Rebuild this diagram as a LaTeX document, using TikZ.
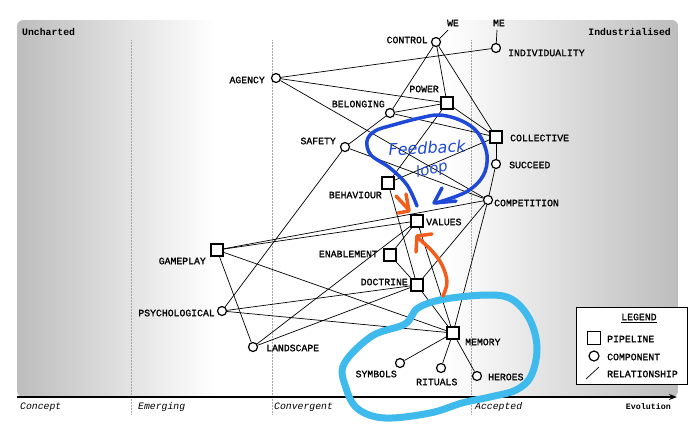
\documentclass[tikz,border=0pt]{standalone}
\usepackage{fontspec}
\setmonofont{Liberation Mono}
\newfontfamily\labelfont{Liberation Mono}[FakeBold=1.2]
\newfontfamily\handfont{DejaVu Sans}
\usetikzlibrary{arrows.meta}
\definecolor{penblue}{RGB}{30,72,215}
\definecolor{penorange}{RGB}{242,92,28}
\definecolor{penaqua}{RGB}{62,186,236}
\tikzset{
  comp/.style={circle, draw, line width=1.2pt, fill=white, inner sep=0pt, minimum size=9pt},
  pipe/.style={rectangle, draw, line width=1.2pt, fill=white, inner sep=0pt, minimum size=12pt},
  lbl/.style={font=\labelfont\fontsize{9.8}{10}\selectfont, inner sep=0pt},
  stage/.style={font=\ttfamily\itshape\fontsize{9.8}{10}\selectfont, anchor=west, inner sep=0pt},
  rel/.style={line width=0.7pt},
  pen/.style={line width=3.5pt, line cap=round, line join=round},
}
\begin{document}
\begin{tikzpicture}[x=1pt, y=-1pt]
    \def\axisy{397}
    \def\mapl{17}
    \def\mapr{678}
\useasboundingbox (0,0) rectangle (700,429);
% map background
\begin{scope}
  \clip[rounded corners=6pt] (\mapl,20) rectangle (\mapr,\axisy);
  \shade[left color=black!26, right color=white] (\mapl,20) rectangle (215,\axisy);
  \shade[left color=white, right color=black!26] (445,20) rectangle (\mapr,\axisy);
\end{scope}
\foreach \x in {131,272,471} {
  \draw[black!35, densely dotted, line width=0.5pt] (\x,40) -- (\x,414);
}
\node[lbl, font=\ttfamily\bfseries\fontsize{9.8}{10}\selectfont, anchor=west] (uncharted) at (22,32) {Uncharted};
\node[lbl, font=\ttfamily\bfseries\fontsize{9.8}{10}\selectfont, anchor=east] (industrialised) at (671,32) {Industrialised};
% evolution axis
\coordinate (axis-start) at (\mapl,\axisy);
\coordinate (axis-end) at (677,\axisy);
\draw[line width=1.6pt, -{Stealth[length=8pt,width=6pt]}] (axis-start) -- (axis-end);
\node[stage] (concept) at (20,407) {Concept};
\node[stage] (emerging) at (138,407) {Emerging};
\node[stage] (convergent) at (274,407) {Convergent};
\node[stage] (accepted) at (475,407) {Accepted};
\node[lbl, font=\ttfamily\bfseries\fontsize{8.3}{9}\selectfont, anchor=east] (evolution) at (671,407) {Evolution};
% components and pipelines
\node[comp] (control) at (436,42) {};
\node[comp] (individuality) at (496,48) {};
\node[comp] (agency) at (276,78) {};
\node[pipe] (power) at (447,103) {};
\node[comp] (belonging) at (390,113) {};
\node[comp] (safety) at (345,147) {};
\node[pipe] (collective) at (496,137) {};
\node[comp] (succeed) at (496,164) {};
\node[pipe] (behaviour) at (388,183) {};
\node[comp] (competition) at (488,200) {};
\node[pipe] (values) at (417,221) {};
\node[pipe] (enablement) at (390,255) {};
\node[pipe] (doctrine) at (417,285) {};
\node[pipe] (gameplay) at (217,250) {};
\node[comp] (psychological) at (222,311) {};
\node[comp] (landscape) at (253,347) {};
\node[pipe] (memory) at (453,333) {};
\node[comp] (symbols) at (400,363) {};
\node[comp] (rituals) at (441,368) {};
\node[comp] (heroes) at (477,376) {};
\foreach \a/\b in {control/belonging, control/power, control/collective,
    agency/individuality, agency/power, agency/competition,
    belonging/power, belonging/collective, belonging/safety,
    safety/psychological, safety/competition,
    power/behaviour, power/collective,
    behaviour/doctrine, behaviour/collective,
    collective/succeed, succeed/competition,
    competition/gameplay, competition/doctrine, competition/memory,
    values/gameplay, values/landscape, values/enablement, values/memory,
    enablement/doctrine,
    doctrine/psychological, doctrine/landscape, doctrine/memory,
    gameplay/landscape, gameplay/memory, psychological/memory,
    memory/symbols, memory/rituals, memory/heroes} {
  \draw[rel] (\a) -- (\b);
}
\coordinate (we-tip) at (448,30);
\coordinate (me-tip) at (497,30);
\draw[rel] (control) -- (we-tip);
\draw[rel] (individuality) -- (me-tip);
% labels
\node[lbl] (we-t) at (453,23) {WE};
\node[lbl] (me-t) at (499,23) {ME};
\node[lbl, anchor=east] (control-t) at (428,40) {CONTROL};
\node[lbl, anchor=west] (individuality-t) at (508,53) {INDIVIDUALITY};
\node[lbl, anchor=east] (agency-t) at (265,80) {AGENCY};
\node[lbl, anchor=east] (power-t) at (439,89) {POWER};
\node[lbl, anchor=east] (belonging-t) at (385,104) {BELONGING};
\node[lbl, anchor=east] (safety-t) at (336,141) {SAFETY};
\node[lbl, anchor=west] (collective-t) at (510,138) {COLLECTIVE};
\node[lbl, anchor=west] (succeed-t) at (509,165) {SUCCEED};
\node[lbl, anchor=east] (behaviour-t) at (382,195) {BEHAVIOUR};
\node[lbl, anchor=west] (competition-t) at (494,203) {COMPETITION};
\node[lbl, anchor=west] (values-t) at (426,222) {VALUES};
\node[lbl, anchor=east] (enablement-t) at (378,254) {ENABLEMENT};
\node[lbl, anchor=east] (doctrine-t) at (408,282) {DOCTRINE};
\node[lbl, anchor=east] (gameplay-t) at (206,261) {GAMEPLAY};
\node[lbl, anchor=east] (psychological-t) at (215,313) {PSYCHOLOGICAL};
\node[lbl, anchor=west] (landscape-t) at (266,348) {LANDSCAPE};
\node[lbl, anchor=west] (memory-t) at (465,342) {MEMORY};
\node[lbl, anchor=east] (symbols-t) at (397,374) {SYMBOLS};
\node[lbl, anchor=west] (rituals-t) at (416,382) {RITUALS};
\node[lbl, anchor=west] (heroes-t) at (488,377) {HEROES};
% legend
\node[draw, line width=0.8pt, fill=white, minimum width=111pt, minimum height=77pt,
      inner sep=0pt, anchor=north west] (legend) at (576,307) {};
\node[lbl] (legend-t) at (639,318) {\underline{LEGEND}};
\node[pipe, minimum size=13pt] (key-pipe) at (594,338) {};
\node[lbl, anchor=west] (key-pipe-t) at (607,339) {PIPELINE};
\node[comp, minimum size=10pt] (key-comp) at (594,356) {};
\node[lbl, anchor=west] (key-comp-t) at (607,357) {COMPONENT};
\coordinate (key-a) at (586,379);
\coordinate (key-b) at (599,367);
\draw[rel] (key-a) -- (key-b);
\node[lbl, anchor=west] (key-rel-t) at (607,374) {RELATIONSHIP};
% hand drawn notes
\draw[pen, penaqua, line width=7pt] plot[smooth cycle, tension=0.6] coordinates {
  (344,364) (372,336) (405,324) (418,308) (445,299) (490,295) (513,300)
  (530,320) (537,348) (531,376) (516,390) (490,397) (462,403) (430,413)
  (385,418) (358,409) (346,388)};
\draw[pen, penblue] plot[smooth, tension=0.6] coordinates {
  (417,206) (407,185) (390,168) (371,155) (367,141) (375,131) (393,125)
  (420,118) (440,115) (462,121) (478,133) (487,155) (483,176) (466,192) (436,203)};
\draw[pen, penblue] (442,188) -- (434,203) -- (456,201);
\node[penblue, font=\handfont\itshape\fontsize{16}{16}\selectfont, rotate=3, inner sep=0pt] (feedback-t) at (427,148) {Feedback};
\node[penblue, font=\handfont\itshape\fontsize{15}{15}\selectfont, rotate=12, inner sep=0pt] (loop-t) at (432,170) {loop};
\draw[pen, penorange] (396,196) -- (409,210);
\draw[pen, penorange] (406,194) -- (409,211) -- (398,213);
\draw[pen, penorange] plot[smooth, tension=0.6] coordinates {
  (443,296) (447,282) (442,265) (432,251) (418,238)};
\draw[pen, penorange] (416,252) -- (417,236) -- (432,234);
\end{tikzpicture}
\end{document}
